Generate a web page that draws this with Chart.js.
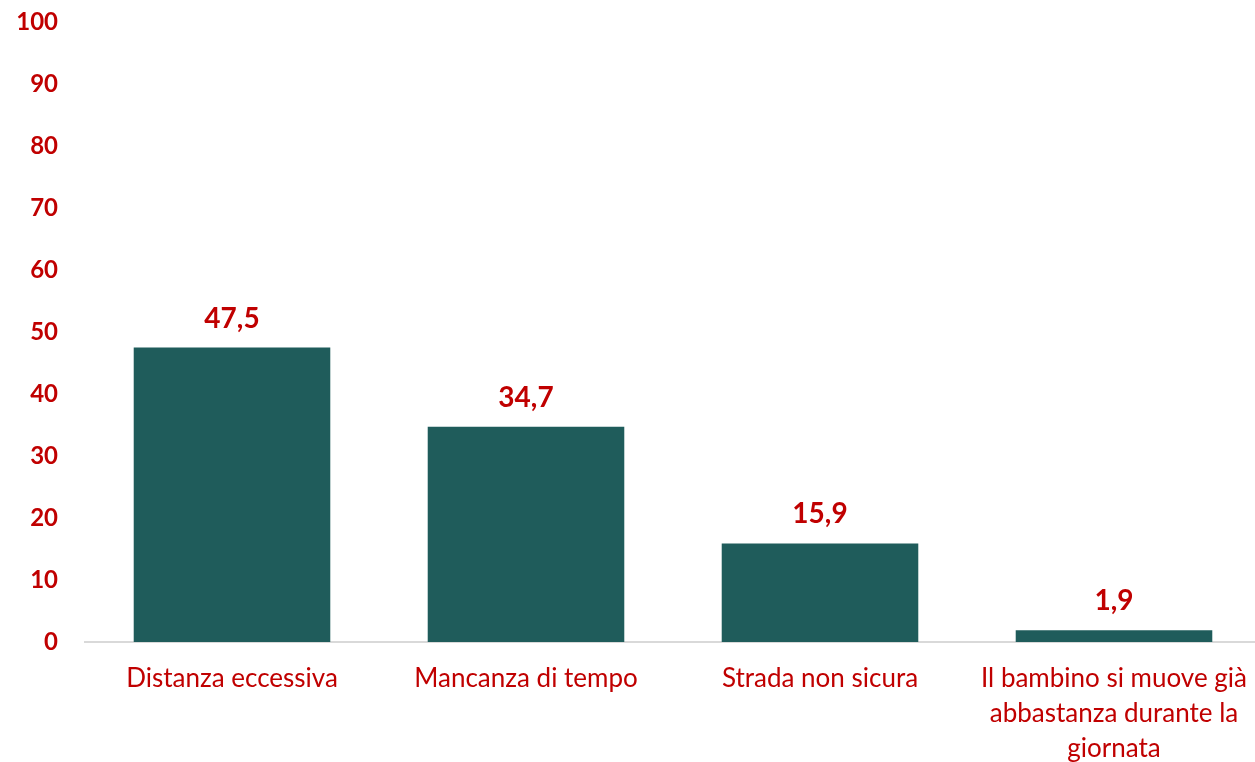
<!DOCTYPE html>
<html>
<head>
<meta charset="utf-8">
<script src="https://cdn.jsdelivr.net/npm/chart.js@4/dist/chart.umd.min.js"></script>
<style>
html,body{margin:0;padding:0;background:#fff;overflow:hidden;}
#wrap{width:1255px;height:762px;position:relative;overflow:hidden;}
</style>
</head>
<body>
<div id="wrap"><canvas id="c" width="1261" height="762"></canvas></div>
<script>
const categories = [
  "Distanza eccessiva",
  "Mancanza di tempo",
  "Strada non sicura",
  ["Il bambino si muove già", "abbastanza durante la", "giornata"]
];
const values = [47.5, 34.7, 15.9, 1.9];
const yTicks = [0, 10, 20, 30, 40, 50, 60, 70, 80, 90, 100];

const RED = '#C00000';
const BAR = '#1F5C5B';
const FONT = 'Lato, "Open Sans", sans-serif';

const dataLabels = {
  id: 'dataLabels',
  afterDatasetsDraw(chart) {
    const ctx = chart.ctx;
    const meta = chart.getDatasetMeta(0);
    ctx.save();
    ctx.fillStyle = RED;
    ctx.font = 'bold 28px ' + FONT;
    ctx.textAlign = 'center';
    ctx.textBaseline = 'middle';
    meta.data.forEach((el, i) => {
      const txt = values[i].toFixed(1).replace('.', ',');
      ctx.fillText(txt, el.x, el.y - 29);
    });
    ctx.restore();
  }
};

new Chart(document.getElementById('c'), {
  type: 'bar',
  data: {
    labels: categories,
    datasets: [{
      data: values,
      backgroundColor: BAR,
      categoryPercentage: 1,
      barPercentage: 0.6686
    }]
  },
  options: {
    responsive: false,
    animation: false,
    layout: { padding: { top: 22, right: 0, left: 0, bottom: 0 } },
    plugins: { legend: { display: false }, tooltip: { enabled: false } },
    scales: {
      x: {
        grid: { display: false, drawTicks: false },
        border: { display: true, color: '#D9D9D9', width: 2 },
        ticks: {
          color: RED,
          font: { family: FONT, size: 26, lineHeight: 1.35 },
          padding: 19,
          maxRotation: 0,
          autoSkip: false
        },
        afterFit(scale) {
          scale.height = 120;
          scale.paddingTop = 0; scale.paddingBottom = 0;
          scale.paddingLeft = 0; scale.paddingRight = 0;
        }
      },
      y: {
        min: 0,
        max: 100,
        afterBuildTicks(scale) { scale.ticks = yTicks.map(v => ({ value: v })); },
        grid: { display: false, drawTicks: false },
        border: { display: false },
        ticks: {
          color: RED,
          font: { family: FONT, size: 24, weight: 'bold' },
          padding: 27
        },
        afterFit(scale) { scale.width = 85; scale.paddingTop = 0; scale.paddingBottom = 0; }
      }
    }
  },
  plugins: [dataLabels]
});
</script>
</body>
</html>
